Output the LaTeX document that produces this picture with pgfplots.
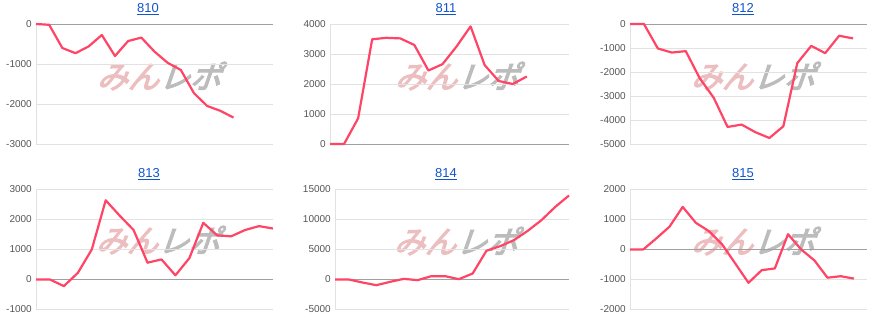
\documentclass[border=0pt]{standalone}
\usepackage{pgfplots}
\pgfplotsset{compat=1.18}
\usepackage{fontspec}
\setmainfont{Liberation Sans}
\newfontfamily\cjk[FakeBold=4]{Noto Sans CJK JP}
\definecolor{linec}{RGB}{255,68,102}
\definecolor{gridc}{RGB}{226,226,226}
\definecolor{basec}{RGB}{160,160,160}
\definecolor{tickc}{RGB}{85,85,85}
\definecolor{titlec}{RGB}{17,85,204}
\definecolor{wmpink}{RGB}{236,190,192}
\definecolor{wmgray}{RGB}{188,188,188}
\pgfplotsset{mini/.style={
  scale only axis, height=120pt, xmin=0,
  axis x line=none, axis y line=left,
  y axis line style={draw=gridc, line width=0.8pt, -},
  major tick length=0pt,
  ymajorgrids, grid style={draw=gridc, line width=0.8pt},
  extra y ticks={0}, extra y tick labels={},
  extra y tick style={grid style={draw=basec, line width=0.8pt}},
  scaled y ticks=false,
  yticklabel style={font=\fontsize{10}{12}\selectfont, text=tickc, inner sep=0pt, anchor=east, xshift=-4pt},
  /pgf/number format/assume math mode=true,
  /pgf/number format/1000 sep={},
  clip=false,
}}
\tikzset{wm/.style={inner sep=0pt, xslant=0.35, font=\cjk\fontsize{31}{31}\selectfont},
  ttl/.style={inner sep=0pt, text=titlec, font=\fontsize{13}{15}\selectfont}}
\newcommand{\wmark}[2]{\node[wm] at (#1,#2) {\color{wmpink}みん\color{wmgray}レポ};}
\begin{document}
\begin{tikzpicture}[x=1pt,y=1pt]
\path[use as bounding box] (0,0) rectangle (891,330);
% watermarks
\wmark{163}{254}
\wmark{461}{254}
\wmark{757}{254}
\wmark{162}{90}
\wmark{460}{89}
\wmark{757}{89}
% titles
\node[ttl] at (148,321) {\underline{810}};
\node[ttl] at (446,321) {\underline{811}};
\node[ttl] at (743,321) {\underline{812}};
\node[ttl] at (149,155.5) {\underline{813}};
\node[ttl] at (446,155.5) {\underline{814}};
\node[ttl] at (743,155.5) {\underline{815}};
% 810
\begin{axis}[mini, at={(36pt,186pt)}, anchor=south west, width=237pt,
  xmax=18, ymin=-3000, ymax=0, ytick={-3000,-2000,-1000,0}]
\addplot[linec, line width=2.2pt, line join=round, no markers] coordinates {
(0,0)(1,-20)(2,-600)(3,-730)(4,-560)(5,-275)(6,-800)(7,-425)(8,-340)(9,-690)(10,-970)(11,-1150)(12,-1730)(13,-2050)(14,-2170)(15,-2340)};
\end{axis}
% 811
\begin{axis}[mini, at={(330pt,186pt)}, anchor=south west, width=239pt,
  xmax=17, ymin=0, ymax=4000, ytick={0,1000,2000,3000,4000}]
\addplot[linec, line width=2.2pt, line join=round, no markers] coordinates {
(0,0)(1,0)(2,855)(3,3490)(4,3540)(5,3520)(6,3300)(7,2450)(8,2660)(9,3250)(10,3920)(11,2630)(12,2100)(13,2000)(14,2250)};
\end{axis}
% 812
\begin{axis}[mini, at={(630pt,186pt)}, anchor=south west, width=237pt,
  xmax=17, ymin=-5000, ymax=0, ytick={-5000,-4000,-3000,-2000,-1000,0}]
\addplot[linec, line width=2.2pt, line join=round, no markers] coordinates {
(0,0)(1,0)(2,-1020)(3,-1190)(4,-1130)(5,-2260)(6,-3070)(7,-4290)(8,-4190)(9,-4510)(10,-4750)(11,-4260)(12,-1630)(13,-910)(14,-1215)(15,-490)(16,-600)};
\end{axis}
% 813
\begin{axis}[mini, at={(36pt,20.5pt)}, anchor=south west, width=237pt,
  xmax=17, ymin=-1000, ymax=3000, ytick={-1000,0,1000,2000,3000}]
\addplot[linec, line width=2.2pt, line join=round, no markers] coordinates {
(0,0)(1,0)(2,-220)(3,220)(4,1000)(5,2640)(6,2130)(7,1650)(8,560)(9,670)(10,140)(11,710)(12,1890)(13,1470)(14,1440)(15,1650)(16,1780)(17,1700)};
\end{axis}
% 814
\begin{axis}[mini, at={(335pt,20.5pt)}, anchor=south west, width=234pt,
  xmax=17, ymin=-5000, ymax=15000, ytick={-5000,0,5000,10000,15000}]
\addplot[linec, line width=2.2pt, line join=round, no markers] coordinates {
(0,0)(1,0)(2,-500)(3,-950)(4,-390)(5,110)(6,-110)(7,555)(8,555)(9,55)(10,1000)(11,4780)(12,5560)(13,6560)(14,8110)(15,9890)(16,12100)(17,14000)};
\end{axis}
% 815
\begin{axis}[mini, at={(630pt,20.5pt)}, anchor=south west, width=237pt,
  xmax=18, ymin=-2000, ymax=2000, ytick={-2000,-1000,0,1000,2000}]
\addplot[linec, line width=2.2pt, line join=round, no markers] coordinates {
(0,0)(1,0)(2,370)(3,760)(4,1420)(5,890)(6,610)(7,170)(8,-470)(9,-1110)(10,-690)(11,-630)(12,510)(13,0)(14,-360)(15,-940)(16,-890)(17,-970)};
\end{axis}
\end{tikzpicture}
\end{document}
